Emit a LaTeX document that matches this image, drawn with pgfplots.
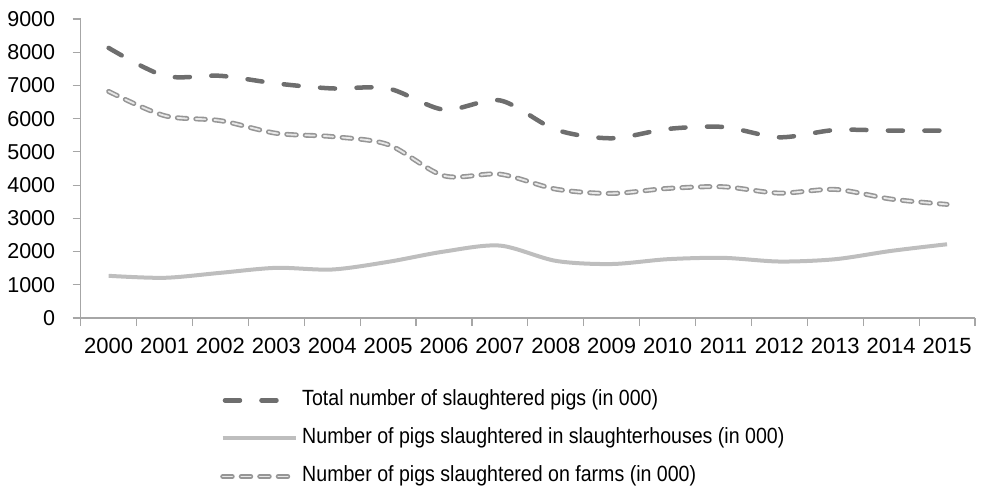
\documentclass[border=0pt]{standalone}
\usepackage{fontspec}
\setmainfont{Liberation Sans}
\newfontfamily\legfont{Liberation Sans}[FakeStretch=0.89]
\usepackage{pgfplots}
\usepackage{pgfplotstable}
\pgfplotsset{compat=1.18}
\definecolor{totc}{RGB}{110,110,110}
\definecolor{slc}{RGB}{190,190,190}
\definecolor{farmout}{RGB}{150,150,150}
\definecolor{farmin}{RGB}{232,232,232}
\definecolor{axc}{RGB}{166,166,166}

\pgfplotstableread{
x total slaughter farms
0 8130 1270 6820
1 7290 1210 6090
2 7290 1360 5940
3 7060 1510 5560
4 6910 1460 5460
5 6910 1690 5220
6 6270 2000 4280
7 6550 2180 4330
8 5670 1720 3880
9 5410 1625 3750
10 5690 1770 3900
11 5750 1810 3950
12 5440 1700 3760
13 5660 1770 3870
14 5640 2020 3580
15 5640 2220 3420
}\data

\tikzset{
  totstyle/.style={totc, line width=4.5pt, line cap=round, dash pattern=on 15pt off 21.5pt},
  farmouter/.style={farmout, line width=5pt, line cap=round, dash pattern=on 9.5pt off 9pt},
  farminner/.style={farmin, line width=1.8pt, line cap=round, dash pattern=on 9.5pt off 9pt},
}

\begin{document}
\begin{tikzpicture}
\begin{axis}[
  width=894.3pt, height=299pt, scale only axis,
  xmin=-0.5, xmax=15.5, ymin=0, ymax=9000,
  axis x line*=bottom, axis y line*=left,
  axis line style={axc, line width=1.2pt},
  xtick={-0.5,0.5,...,15.5}, xticklabels={},
  extra x ticks={0,1,2,3,4,5,6,7,8,9,10,11,12,13,14,15},
  extra x tick labels={2000,2001,2002,2003,2004,2005,2006,2007,2008,2009,2010,2011,2012,2013,2014,2015},
  extra x tick style={major tick length=0pt},
  ytick={0,1000,2000,3000,4000,5000,6000,7000,8000,9000},
  tick style={axc, line width=1.2pt},
  tick align=outside, major tick length=8pt,
  /pgf/number format/assume math mode=true,
  yticklabel style={font=\fontsize{21.5}{24}\selectfont, xshift=-14pt, /pgf/number format/1000 sep={}},
  xticklabel style={font=\fontsize{22}{24}\selectfont, yshift=-17pt},
  legend style={at={(0.1558,-0.24)}, anchor=north west, draw=none, fill=none,
    font=\legfont\fontsize{22}{24}\selectfont, inner sep=0pt, row sep=17pt, column sep=4pt,
    nodes={inner sep=0pt, text height=16pt, text depth=5pt}},
  legend cell align=left,
  legend image code/.code={\draw[#1] (0pt,0pt) -- (73pt,0pt);},
]
\addplot[totstyle, smooth, tension=0.5,
  legend image code/.code={\draw[totstyle] (2.25pt,0pt) -- (56pt,0pt); \path[draw=none] (0pt,0pt) -- (73pt,0pt);}]
  table[x=x,y=total]{\data};
\addlegendentry{Total number of slaughtered pigs (in 000)}
\addplot[slc, line width=4pt, smooth, tension=0.5]
  table[x=x,y=slaughter]{\data};
\addlegendentry{Number of pigs slaughtered in slaughterhouses (in 000)}
\addplot[farmouter, smooth, tension=0.5, forget plot]
  table[x=x,y=farms]{\data};
\addplot[farminner, smooth, tension=0.5,
  legend image code/.code={\draw[farmouter] (0pt,0pt) -- (73pt,0pt);\draw[farminner] (0pt,0pt) -- (73pt,0pt);}]
  table[x=x,y=farms]{\data};
\addlegendentry{Number of pigs slaughtered on farms (in 000)}
\end{axis}
\pgfresetboundingbox
\path[use as bounding box] (-80.7pt,-170pt) rectangle (901.3pt,318pt);
\end{tikzpicture}
\end{document}
